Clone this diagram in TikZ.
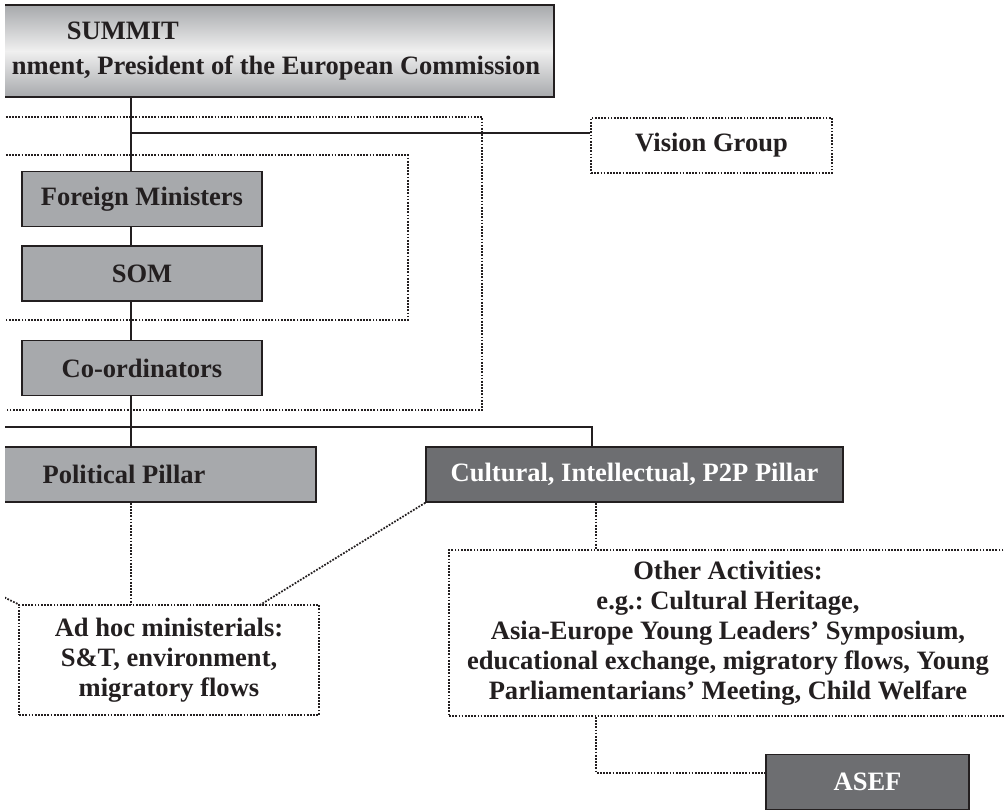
\documentclass[tikz,border=0pt]{standalone}
\usepackage{fontspec}
\setmainfont{Liberation Serif}
\frenchspacing
\usetikzlibrary{positioning}
\definecolor{boxgray}{HTML}{A7A9AC}
\definecolor{boxdark}{HTML}{6D6E71}
\definecolor{ink}{HTML}{231F20}

\begin{document}
\begin{tikzpicture}[x=0.02cm, y=-0.02cm,
    every node/.style={font=\bfseries\fontsize{15.1}{17.1}\selectfont, text=ink, inner sep=0pt},
    body/.style={draw=ink, line width=0.85pt, minimum height=1.1cm},
    lightbox/.style={body, fill=boxgray},
    darkbox/.style={body, fill=boxdark, text=white},
    dotbox/.style={draw=ink, line width=1pt, dash pattern=on 1pt off 0.8pt, align=center},
    link/.style={draw=ink, line width=0.85pt},
    dotlink/.style={draw=ink, line width=1pt, dash pattern=on 1pt off 0.8pt}]
  \useasboundingbox (0,0) rectangle (1005,812);
  \clip (5,0) rectangle (1005,812);

  \node[body, top color=boxgray, bottom color=boxgray, middle color=gray!12, minimum width=11.12cm, minimum height=1.84cm, align=left, name=summit] at (276,51) {\hspace*{1.1cm}SUMMIT\\[0.1cm]nment, President of the European Commission};
  \node[dotbox, minimum width=4.82cm, minimum height=1.1cm, name=vision] at (711.5,145.5) {Vision Group};

  \node[lightbox, minimum width=4.8cm, name=fm] at (142,199) {Foreign Ministers};
  \node[lightbox, minimum width=4.8cm, name=som, below=0.36cm of fm] {SOM};
  \node[lightbox, minimum width=4.8cm, name=co, below=0.76cm of som] {Co-ordinators};

  \node[lightbox, minimum width=7.68cm, name=pol] at (124,474.5) {Political Pillar};
  \node[darkbox, minimum width=8.34cm, name=cult] at (634.5,474.5) {Cultural, Intellectual, P2P Pillar};

  \node[dotbox, minimum width=6cm, minimum height=2.2cm, name=adhoc] at (169,660) {Ad hoc ministerials:\\S\&T, environment,\\migratory flows};
  \node[dotbox, minimum width=11.16cm, minimum height=3.32cm, name=other] at (728,633) {Other Activities:\\e.g.: Cultural Heritage,\\Asia-Europe Young Leaders’ Symposium,\\educational exchange, migratory flows, Young\\Parliamentarians’ Meeting, Child Welfare};
  \node[darkbox, minimum width=4.06cm, name=asef] at (867.5,782) {ASEF};

  % dotted frames
  \draw[dotlink] (-10,117) -| (482,410) -- (-10,410);
  \draw[dotlink] (-10,155) -| (408,320) -- (-10,320);

  \coordinate (trunk) at (131,0);
  \coordinate (vbranch) at (131,133);
  \coordinate (rim) at (-20,427);
  \coordinate (cdrop) at (592,427);
  \coordinate (slant) at (260,605);
  \coordinate (stray) at (-21,585);
  \coordinate (odrop) at (596,0);
  \coordinate (asefin) at (0,773);

  \draw[link] (summit.south -| trunk) -- (fm.north -| trunk);
  \draw[link] (fm.south -| trunk) -- (som.north -| trunk);
  \draw[link] (som.south -| trunk) -- (co.north -| trunk);
  \draw[link] (co.south -| trunk) -- (pol.north -| trunk);
  \draw[link] (vbranch) -- (vision.west |- vbranch);
  \draw[link] (rim) -- (cdrop) -- (cult.north -| cdrop);

  \draw[dotlink] (pol.south -| trunk) -- (adhoc.north -| trunk);
  \draw[dotlink] (cult.south west) -- (slant);
  \draw[dotlink] (stray) -- (adhoc.north west);
  \draw[dotlink] (cult.south -| odrop) -- (other.north -| odrop);
  \draw[dotlink] (other.south -| odrop) |- (asef.west |- asefin);
\end{tikzpicture}
\end{document}
